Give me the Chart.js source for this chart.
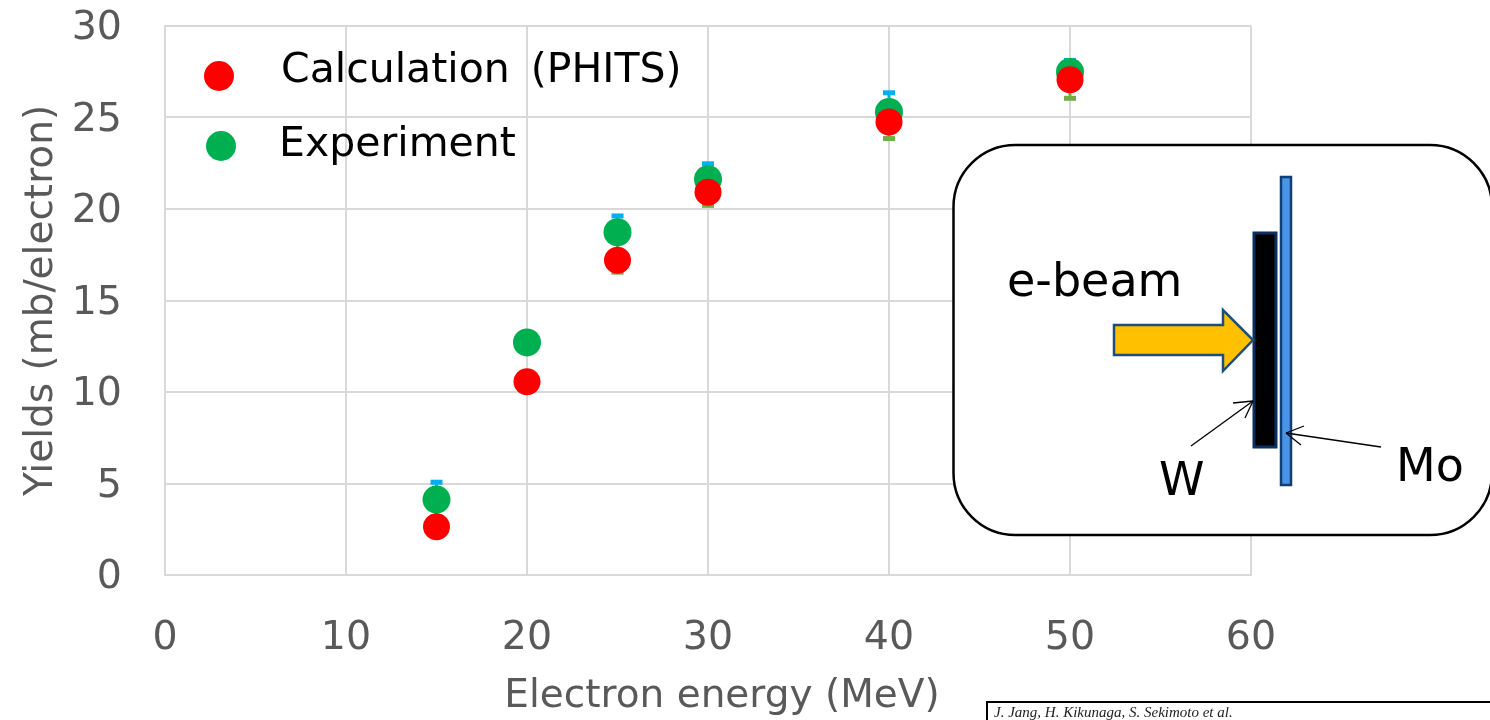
<!DOCTYPE html>
<html><head><meta charset="utf-8">
<style>html,body{margin:0;padding:0;background:#fff;overflow:hidden}#w{position:relative;width:1490px;height:720px}</style>
<script src="https://cdn.jsdelivr.net/npm/chart.js@4"></script>
</head><body><div id="w"><canvas id="c" width="1490" height="720"></canvas></div>
<script>
const energy = [15, 20, 25, 30, 40, 50];
const calculation = [2.64, 10.56, 17.2, 20.92, 24.76, 27.06];
const experiment = [4.12, 12.71, 18.73, 21.63, 25.3, 27.49];
const errorUpper = [5.07, 13.18, 19.62, 22.47, 26.35, 28.12];
const errorLower = [3.17, 12.27, 16.55, 20.2, 23.85, 26.05];
const xTicks = [0, 10, 20, 30, 40, 50, 60];
const yTicks = [0, 5, 10, 15, 20, 25, 30];
const FONT = '"DejaVu Sans", sans-serif';

const errorBars = {
  id: 'errorBars',
  beforeDatasetsDraw(chart) {
    const {ctx, scales: {x, y}} = chart;
    const part = (vals, col) => {
      ctx.strokeStyle = col;
      vals.forEach((v, i) => {
        const px = x.getPixelForValue(energy[i]);
        const py = y.getPixelForValue(v);
        const p0 = y.getPixelForValue(experiment[i]);
        ctx.lineWidth = 3;
        ctx.beginPath(); ctx.moveTo(px, p0); ctx.lineTo(px, py); ctx.stroke();
        ctx.lineWidth = 5;
        ctx.beginPath(); ctx.moveTo(px - 6, py); ctx.lineTo(px + 6, py); ctx.stroke();
      });
    };
    ctx.save();
    part(errorUpper, '#00b0f0');
    part(errorLower, '#70ad47');
    ctx.restore();
  }
};

const overlay = {
  id: 'overlay',
  afterDraw(chart) {
    const ctx = chart.ctx;
    ctx.save();
    // legend
    const dot = (x, y, r, c) => { ctx.fillStyle = c; ctx.beginPath(); ctx.arc(x, y, r, 0, Math.PI * 2); ctx.fill(); };
    dot(219, 76, 15, '#ff0000');
    dot(221, 146, 15, '#00b050');
    ctx.fillStyle = '#000'; ctx.textBaseline = 'middle'; ctx.textAlign = 'left';
    ctx.font = '41px ' + FONT;
    ctx.wordSpacing = '8px';
    ctx.fillText('Calculation (PHITS)', 281, 71);
    ctx.wordSpacing = '0px';
    ctx.fillText('Experiment', 279, 145);
    // inset box
    ctx.beginPath(); ctx.roundRect(953.5, 145, 538.5, 390, 62);
    ctx.fillStyle = '#fff'; ctx.fill();
    ctx.lineWidth = 2.5; ctx.strokeStyle = '#000'; ctx.stroke();
    // W plate
    ctx.fillStyle = '#000'; ctx.strokeStyle = '#0b2f60'; ctx.lineWidth = 3;
    ctx.fillRect(1254, 233, 22, 214); ctx.strokeRect(1254, 233, 22, 214);
    // Mo plate
    ctx.fillStyle = '#4a94e8'; ctx.strokeStyle = '#0f3f78'; ctx.lineWidth = 2.5;
    ctx.fillRect(1281, 177, 10, 308); ctx.strokeRect(1281, 177, 10, 308);
    // beam arrow
    ctx.beginPath();
    ctx.moveTo(1114, 325); ctx.lineTo(1223, 325); ctx.lineTo(1223, 310); ctx.lineTo(1253, 340);
    ctx.lineTo(1223, 371); ctx.lineTo(1223, 355); ctx.lineTo(1114, 355); ctx.closePath();
    ctx.fillStyle = '#ffc000'; ctx.fill();
    ctx.strokeStyle = '#1f4e79'; ctx.lineWidth = 2.5; ctx.stroke();
    // pointers
    ctx.strokeStyle = '#000'; ctx.lineWidth = 1.3;
    const seg = (a, b, c, d) => { ctx.beginPath(); ctx.moveTo(a, b); ctx.lineTo(c, d); ctx.stroke(); };
    seg(1191, 446, 1253, 401); seg(1233, 403, 1253, 401); seg(1245, 418, 1253, 401);
    seg(1381, 447, 1286, 433); seg(1304, 426, 1286, 433); seg(1301, 445, 1286, 433);
    // inset text
    ctx.fillStyle = '#000'; ctx.font = '46px ' + FONT;
    ctx.fillText('e-beam', 1007, 284);
    ctx.fillText('W', 1159, 483);
    ctx.fillText('Mo', 1396, 469);
    // citation box
    ctx.strokeStyle = '#000'; ctx.lineWidth = 2;
    ctx.beginPath(); ctx.moveTo(987, 722); ctx.lineTo(987, 702); ctx.lineTo(1492, 702); ctx.stroke();
    ctx.fillStyle = '#222'; ctx.font = 'italic 15px "Liberation Serif", serif';
    ctx.fillText('J. Jang, H. Kikunaga, S. Sekimoto et al.', 994, 713);
    ctx.restore();
  }
};

// Nudges a scale's native drawing routine by a few pixels
function nudge(s, method, dx, dy) {
  const flag = '_n_' + method;
  if (s[flag]) return;
  s[flag] = true;
  const orig = s[method];
  s[method] = function (...a) { const c = this.ctx; c.save(); c.translate(dx, dy); orig.apply(this, a); c.restore(); };
}

new Chart(document.getElementById('c'), {
  type: 'scatter',
  data: {
    datasets: [
      {label: 'Experiment', data: energy.map((e, i) => ({x: e, y: experiment[i]})), backgroundColor: '#00b050', borderWidth: 0, pointRadius: 14, order: 2},
      {label: 'Calculation (PHITS)', data: energy.map((e, i) => ({x: e, y: calculation[i]})), backgroundColor: '#ff0000', borderWidth: 0, pointRadius: 13.5, order: 1}
    ]
  },
  plugins: [errorBars, overlay],
  options: {
    responsive: false, animation: false,
    layout: {padding: {top: 26, right: 239, left: 0, bottom: 0}},
    plugins: {legend: {display: false}, tooltip: {enabled: false}},
    scales: {
      x: {
        type: 'linear', min: 0, max: 60,
        afterBuildTicks(s) { s.ticks = xTicks.map(v => ({value: v})); },
        afterFit(s) {
          s.height = 145; s.paddingLeft = 0; s.paddingRight = 0; s.paddingTop = 0; s.paddingBottom = 0;
          nudge(s, 'drawTitle', 14, 0);
        },
        grid: {color: '#d9d9d9', lineWidth: 2, drawTicks: false},
        border: {color: '#d9d9d9', width: 2},
        ticks: {color: '#595959', font: {family: FONT, size: 39.5}, padding: 40, maxRotation: 0},
        title: {display: true, text: 'Electron energy (MeV)', color: '#595959', font: {family: FONT, size: 39}, padding: {top: 0, bottom: 0}}
      },
      y: {
        type: 'linear', min: 0, max: 30,
        afterBuildTicks(s) { s.ticks = yTicks.map(v => ({value: v})); },
        afterFit(s) {
          s.width = 165; s.paddingLeft = 0; s.paddingRight = 0; s.paddingTop = 0; s.paddingBottom = 0;
          nudge(s, 'drawLabels', 0, 3);
        },
        grid: {color: '#d9d9d9', lineWidth: 2, drawTicks: false},
        border: {color: '#d9d9d9', width: 2},
        ticks: {color: '#595959', font: {family: FONT, size: 39.5}, padding: 43},
        title: {display: true, text: 'Yields (mb/electron)', color: '#595959', font: {family: FONT, size: 39}, padding: {top: 18, bottom: 0}}
      }
    }
  }
});
</script></body></html>
